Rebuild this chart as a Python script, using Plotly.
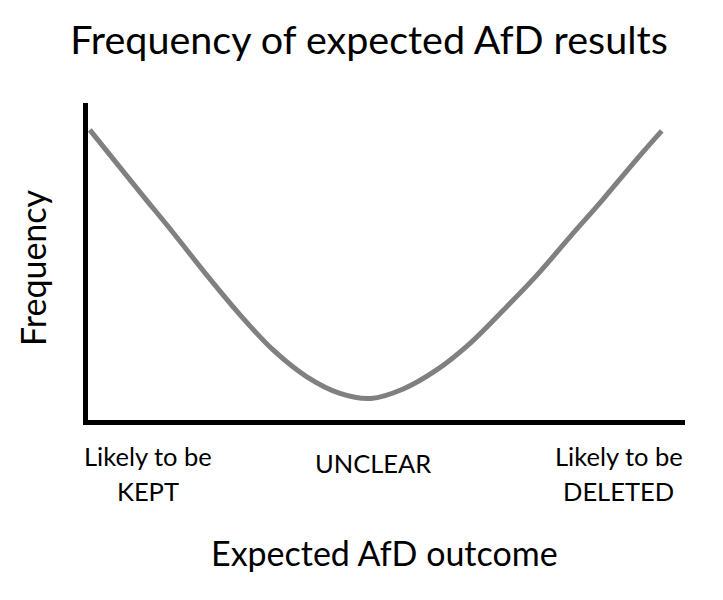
import plotly.graph_objects as go

# Curve values (x: expected outcome 0-100, y: frequency 0-100)
outcome = [0.3, 8.7, 14.3, 19.9, 25.5, 31.0, 36.6, 42.2, 47.4, 52.8, 58.4, 64.0, 69.6, 75.2, 80.7, 86.3, 91.8, 96.1]
frequency = [91.5, 71.9, 59.0, 45.7, 33.1, 22.1, 13.7, 8.4, 6.8, 9.8, 15.8, 24.2, 34.7, 45.7, 57.7, 69.7, 82.0, 91.2]

# Category labels on the x axis
tick_pos = [10.0, 47.7, 88.9]
tick_line1 = ["Likely to be", "UNCLEAR", "Likely to be"]
tick_line2 = ["KEPT", "", "DELETED"]

title_text = "Frequency of expected AfD results"
x_title = "Expected AfD outcome"
y_title = "Frequency"

FONT = "Lato"

fig = go.Figure()
fig.add_trace(go.Scatter(
    x=outcome, y=frequency, mode="lines",
    line=dict(color="#808080", width=5, shape="spline", smoothing=1.0),
    hoverinfo="skip", showlegend=False,
))

annotations = []
for pos, l1, l2 in zip(tick_pos, tick_line1, tick_line2):
    single = (l2 == "")
    annotations.append(dict(
        x=pos, xref="x", y=0, yref="paper", text=l1, showarrow=False,
        yshift=-(43 if single else 36), yanchor="middle", xanchor="center",
        font=dict(family=FONT, size=25.5, color="black"),
    ))
    if not single:
        annotations.append(dict(
            x=pos, xref="x", y=0, yref="paper", text=l2, showarrow=False,
            yshift=-71, yanchor="middle", xanchor="center",
            font=dict(family=FONT, size=25.5, color="black"),
        ))

annotations.append(dict(
    x=(384 - 88) / 597, xref="paper", y=0, yref="paper", yshift=-132,
    text=x_title, showarrow=False, xanchor="center", yanchor="middle",
    font=dict(family=FONT, size=34, color="black"),
))
annotations.append(dict(
    x=(32 - 88) / 597, xref="paper", y=(420 - 268) / 317, yref="paper",
    text=y_title, showarrow=False, textangle=-90, xanchor="center", yanchor="middle",
    font=dict(family=FONT, size=34, color="black"),
))

fig.update_layout(
    width=723, height=600,
    margin=dict(l=88, r=38, t=103, b=180),
    paper_bgcolor="white", plot_bgcolor="white",
    title=dict(text=title_text, x=369 / 723, xanchor="center", xref="container",
               y=1 - 40 / 600, yanchor="middle", yref="container",
               font=dict(family=FONT, size=39.5, color="black")),
    xaxis=dict(range=[0, 100], showline=True, linewidth=5, linecolor="black",
               showgrid=False, zeroline=False, showticklabels=False, ticks="", fixedrange=True),
    yaxis=dict(range=[0, 100], showline=True, linewidth=5, linecolor="black",
               showgrid=False, zeroline=False, showticklabels=False, ticks="", fixedrange=True),
    annotations=annotations,
)

fig.write_html("out.html", config={"displayModeBar": False})
